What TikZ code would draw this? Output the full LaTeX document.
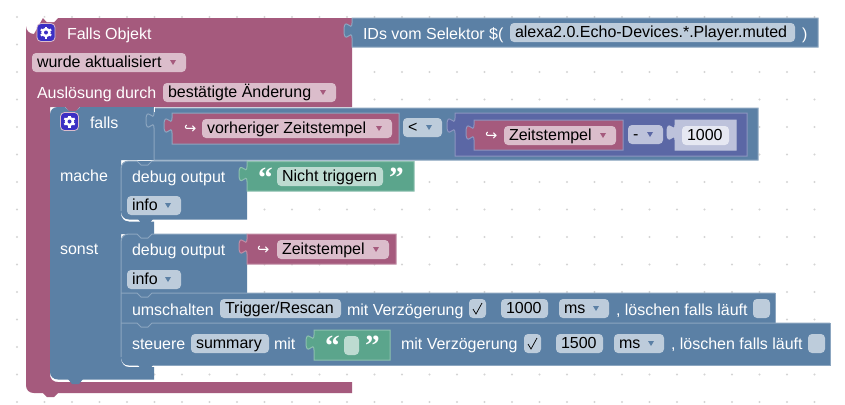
\documentclass[tikz,border=0pt]{standalone}
\usepackage{fontspec}
\setmainfont{Liberation Sans}
\newfontfamily\dejafont{DejaVu Sans}
\newfontfamily\quotefont{Liberation Serif}[BoldFont={Liberation Serif Bold}]
\definecolor{mag}{HTML}{A55A7D}
\definecolor{magf}{HTML}{DBBDCB}
\definecolor{blu}{HTML}{5B80A5}
\definecolor{bluf}{HTML}{BDCCDB}
\definecolor{bluh}{HTML}{8CA6C0}
\definecolor{grn}{HTML}{5BA58C}
\definecolor{grnf}{HTML}{BDDBD1}
\definecolor{grnh}{HTML}{8CC0AE}
\definecolor{mth}{HTML}{5B67A5}
\definecolor{mthf}{HTML}{BDC2DB}
\definecolor{mthn}{HTML}{E6E8F2}
\definecolor{mthh}{HTML}{8C95C0}
\definecolor{magh}{HTML}{C08CA4}
\definecolor{gear}{HTML}{3B2FC4}
\definecolor{griddot}{HTML}{D4D4D4}
\tikzset{
  x=0.75pt,y=-0.75pt,
  txt/.style={font=\fontsize{12pt}{14pt}\selectfont,inner sep=0pt,outer sep=0pt,anchor=base west},
  lbl/.style={txt,text=white},
  fldtxt/.style={txt,text=black},
  hiline/.style={draw=bluh,line width=0.75pt},
  arrowtxt/.style={lbl,font=\dejafont\fontsize{11pt}{13pt}\selectfont},
  quotetxt/.style={lbl,font=\quotefont\bfseries\fontsize{22pt}{22pt}\selectfont},
}
% value block with a puzzle tab on the left
\newcommand{\vblk}[6]{%
  \filldraw[fill=#5,draw=#6,line width=0.75pt]
    (#1,#2) -- (#1,{#2+5})
    .. controls (#1,{#2+15}) and ({#1-8},{#2-3}) .. ({#1-8},{#2+12.5})
    .. controls ({#1-8},{#2+28}) and (#1,{#2+10}) .. (#1,{#2+20})
    -- (#1,#4) -- (#3,#4) -- (#3,#2) -- cycle;}
% text field
\newcommand{\fld}[7]{%
  \fill[#6,rounded corners=3pt] (#2,#3) rectangle (#4,#5);
  \node[fldtxt] (#1) at ({#2+5},{#5-4.5}) {#7};}
% dropdown field
\newcommand{\ddn}[8]{%
  \fld{#1}{#2}{#3}{#4}{#5}{#6}{#8}
  \fill[#7] ({#4-16},{(#3+#5)/2-2.5}) -- ({#4-10},{(#3+#5)/2-2.5}) -- ({#4-13},{(#3+#5)/2+2.5}) -- cycle;}
% checkbox
\newcommand{\chk}[3]{%
  \fill[bluf,rounded corners=3pt] (#1,#2) rectangle ({#1+17},{#2+19});
  \ifnum#3=1
  \draw[black,line width=0.55pt] ({#1+4},{#2+10}) -- ({#1+7},{#2+15}) -- ({#1+13},{#2+4});
  \fi}
% gear icon
\newcommand{\gearicon}[2]{%
  \filldraw[fill=gear,draw=magf,line width=0.6pt,rounded corners=3pt] ({#1-9},{#2-9}) rectangle ({#1+9},{#2+9});
  \foreach \ang in {0,60,...,300}{
    \draw[white,line width=1.6pt] (#1,#2) -- ({#1+6*cos(\ang+30)},{#2+6*sin(\ang+30)});}
  \fill[white] (#1,#2) circle[radius=3.6pt];
  \fill[gear] (#1,#2) circle[radius=1.5pt];}
% statement notch highlight
\newcommand{\notchtop}[3]{%
  \draw[hiline] (#1,#2) -- (137,#2) -- (141,{#2+4}) -- (148,{#2+4}) -- (152,#2) -- (#3,#2);}
\newcommand{\bump}[3]{%
  \fill[#3] ({#1},#2) -- ({#1+4},{#2+5}) -- ({#1+11},{#2+5}) -- ({#1+15},#2) -- cycle;}
\begin{document}
\begin{tikzpicture}
\useasboundingbox (0,0) rectangle (845,404);
\fill[white] (0,0) rectangle (845,404);
% grid dots
\foreach \i in {0,...,29}{\foreach \j in {0,...,14}{
  \fill[griddot] ({17+27.5*\i},{17+27.5*\j}) circle[radius=0.8pt];}}
% outer magenta block
\fill[mag] (26,26) arc[start angle=180,end angle=90,radius=8] -- (43,18) -- (47,22) -- (54,22) -- (58,18)
  -- (352,18) -- (352,107) -- (50,107) -- (50,374) .. controls (50,379) and (53,382) .. (58,382)
  -- (352,382) -- (352,393) -- (58,393) -- (54,397) -- (47,397) -- (43,393) -- (34,393)
  .. controls (29,393) and (26,390) .. (26,385) -- cycle;
\fill[white] (43,17.5) -- (47,22) -- (54,22) -- (58,17.5) -- cycle;
\bump{65}{106.5}{mag}
% blue falls arm
\fill[blu] (58,107) -- (65,107) -- (69,111) -- (76,111) -- (80,107) -- (154,107) -- (154,160) -- (121,160)
  -- (121,213) .. controls (121,218) and (124,221.5) .. (129,221.5) -- (154,221.5) -- (154,234) -- (121,234)
  -- (121,358) .. controls (121,363) and (124,367) .. (129,367) -- (154,367) -- (154,379.5) -- (58,379.5)
  .. controls (53,379.5) and (50,376) .. (50,372) -- (50,115) .. controls (50,110) and (53,107) .. (58,107) -- cycle;
\bump{68}{379}{blu}
% comparison block
\vblk{154}{108}{758}{160}{blu}{bluh}
\draw[white,line width=0.6pt] (154,107) -- (154,112);
% mache block
\fill[blu] (129,161) -- (247,161) -- (247,219.5) -- (129,219.5) .. controls (124,219.5) and (121,216) .. (121,211)
  -- (121,169) .. controls (121,164) and (124,161) .. (129,161) -- cycle;
\bump{138}{219}{blu}
\notchtop{129}{161}{247}
\draw[hiline] (129,161) .. controls (124,161) and (121,164) .. (121,169) -- (121,211);
% sonst blocks
\fill[blu] (129,234) -- (247,234) -- (247,293) -- (775,293) -- (775,323) -- (830,323) -- (830,365.5) -- (129,365.5)
  .. controls (124,365.5) and (121,362) .. (121,357) -- (121,242) .. controls (121,237) and (124,234) .. (129,234) -- cycle;
\bump{138}{365}{blu}
\notchtop{129}{234}{247}
\draw[hiline] (129,234) .. controls (124,234) and (121,237) .. (121,242) -- (121,357);
\notchtop{121}{293}{775}
\notchtop{121}{323}{830}
\draw[hiline] (830,323) -- (830,365.5) -- (154,365.5);
\draw[hiline] (775,293) -- (775,323);
% value blocks
\vblk{352}{18}{818}{47}{blu}{bluh}
\vblk{172}{113}{399}{144}{mag}{bluh}
\vblk{455}{113}{747}{156}{mth}{mthh}
\vblk{474}{120}{623}{150}{mag}{mthh}
\vblk{675}{120}{736}{150}{mthf}{mthf}
\vblk{247}{161.5}{414}{191}{grn}{grnh}
\vblk{247}{234}{396}{264}{mag}{magh}
\vblk{314}{330}{390}{360}{grn}{grnh}
% labels
\gearicon{46}{32.5}
\node[lbl] (t1) at (67,39) {Falls Objekt};
\node[lbl] (t2) at (363,39) {IDs vom Selektor \$(};
\fld{f1}{510}{23}{795}{42}{bluf}{alexa2.0.Echo-Devices.*.Player.muted}
\node[lbl] (t3) at (802,39) {)};
\ddn{f2}{32}{53}{186}{72}{magf}{mag}{wurde aktualisiert}
\node[lbl] (t4) at (37,98) {Auslösung durch};
\ddn{f3}{163}{83}{336}{102}{magf}{mag}{bestätigte Änderung}
\gearicon{69.5}{121.5}
\node[lbl] (t5) at (90,128) {falls};
\node[arrowtxt] (a1) at (184,133) {↪};
\ddn{f4}{202}{119}{392}{138}{magf}{mag}{vorheriger Zeitstempel}
\ddn{f5}{403}{118}{442}{137}{bluf}{blu}{<}
\node[arrowtxt] (a2) at (485,140) {↪};
\ddn{f6}{504}{126}{616}{145}{magf}{mag}{Zeitstempel}
\ddn{f7}{628}{125}{663}{144}{mthf}{mth}{-}
\fld{f8}{682}{126}{729}{145}{mthn}{1000}
\node[lbl] (t6) at (60,181) {mache};
\node[lbl] (t7) at (132,182) {debug output};
\node[quotetxt] (q1) at (258,187) {“};
\fld{f9}{277}{167}{383}{186}{grnf}{Nicht triggern}
\node[quotetxt] (q2) at (389,187) {”};
\ddn{f10}{127}{196}{181}{215}{bluf}{blu}{info}
\node[lbl] (t8) at (60,254) {sonst};
\node[lbl] (t9) at (132,255) {debug output};
\node[arrowtxt] (a3) at (257,254) {↪};
\ddn{f11}{277}{240}{389}{259}{magf}{mag}{Zeitstempel}
\ddn{f12}{127}{270}{181}{289}{bluf}{blu}{info}
\node[lbl] (t10) at (132,315) {umschalten};
\fld{f13}{220}{299}{341}{318}{bluf}{Trigger/Rescan}
\node[lbl] (t11) at (347,315) {mit Verzögerung};
\chk{469}{299}{1}
\fld{f14}{501}{299}{548}{318}{bluf}{1000}
\ddn{f15}{559}{299}{609}{318}{bluf}{blu}{ms}
\node[lbl] (t12) at (616,315) {, löschen falls läuft};
\chk{753}{299}{0}
\node[lbl] (t13) at (132,349) {steuere};
\fld{f16}{191}{334}{269}{353}{bluf}{summary}
\node[lbl] (t14) at (274,349) {mit};
\node[quotetxt] (q3) at (325,355) {“};
\fill[grnf,rounded corners=3pt] (344,336) rectangle (359,355);
\node[quotetxt] (q4) at (365,355) {”};
\node[lbl] (t15) at (401,349) {mit Verzögerung};
\chk{524}{334}{1}
\fld{f17}{556}{334}{603}{353}{bluf}{1500}
\ddn{f18}{614}{334}{664}{353}{bluf}{blu}{ms}
\node[lbl] (t16) at (671,349) {, löschen falls läuft};
\chk{808}{334}{0}
\end{tikzpicture}
\end{document}
